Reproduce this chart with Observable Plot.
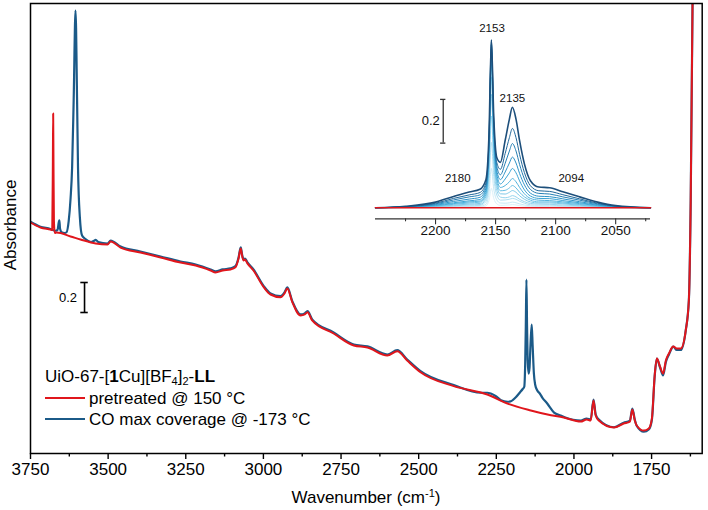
<!DOCTYPE html>
<html><head><meta charset="utf-8">
<script src="https://cdn.jsdelivr.net/npm/d3@7"></script>
<script src="https://cdn.jsdelivr.net/npm/@observablehq/plot@0.6"></script>
<style>
body{margin:0;background:#fff;}
#wrap{position:relative;width:708px;height:510px;overflow:hidden;font-family:"Liberation Sans",Arial,sans-serif;color:#000;background:#fff;}
.abs{position:absolute;white-space:nowrap;line-height:1;}
</style></head><body><div id="wrap"></div>
<script>
// ---- main spectra: [wavenumber (cm-1), absorbance] ----
const pretreated = [[3750,1.540],[3718,1.507],[3686,1.493],[3680,1.49],[3678,1.95],[3677,2.267],[3676,1.95],[3674.5,1.55],[3672,1.47],[3666,1.473],[3621,1.447],[3589,1.427],[3540,1.400],[3502,1.393],[3492,1.413],[3460,1.373],[3396,1.340],[3331,1.307],[3267,1.273],[3218,1.253],[3170,1.220],[3154,1.207],[3131,1.220],[3106,1.227],[3090,1.242],[3080,1.30],[3073,1.367],[3068,1.313],[3064,1.287],[3059,1.293],[3052,1.269],[3032,1.220],[2999,1.109],[2977,1.060],[2945,1.042],[2932,1.067],[2923,1.100],[2907,1.009],[2880,0.920],[2867,0.927],[2858,0.942],[2843,0.887],[2774,0.800],[2709,0.720],[2665,0.707],[2601,0.653],[2569,0.682],[2537,0.620],[2494,0.542],[2387,0.449],[2279,0.393],[2214,0.333],[2139,0.287],[2085,0.260],[2033,0.240],[1978,0.213],[1959,0.227],[1946,0.22],[1937,0.353],[1930,0.253],[1920,0.22],[1871,0.173],[1840,0.20],[1820,0.213],[1812,0.293],[1804,0.22],[1798,0.187],[1775,0.153],[1759,0.167],[1749,0.233],[1740,0.52],[1733,0.633],[1723,0.58],[1713,0.533],[1704,0.62],[1694,0.667],[1680,0.713],[1669,0.70],[1656,0.70],[1640,0.82],[1630,1.02],[1624,1.687],[1618,3.02],[1612,3.5]];
const coMax = [[3750,1.545],[3718,1.512],[3686,1.497],[3670,1.485],[3663,1.49],[3659,1.54],[3657,1.555],[3655,1.50],[3650,1.475],[3640,1.47],[3634,1.475],[3627,1.55],[3621,1.70],[3616,1.907],[3611,2.353],[3605,2.953],[3600,2.353],[3597,1.907],[3591,1.573],[3584,1.453],[3573,1.43],[3555,1.41],[3545,1.418],[3540,1.425],[3532,1.41],[3502,1.40],[3492,1.42],[3460,1.38],[3396,1.347],[3331,1.313],[3267,1.28],[3218,1.26],[3170,1.227],[3154,1.214],[3131,1.227],[3106,1.234],[3090,1.249],[3080,1.307],[3073,1.374],[3068,1.32],[3064,1.294],[3059,1.30],[3052,1.276],[3032,1.227],[2999,1.116],[2977,1.067],[2945,1.049],[2932,1.074],[2923,1.107],[2907,1.016],[2880,0.927],[2867,0.934],[2858,0.949],[2843,0.894],[2774,0.807],[2709,0.727],[2665,0.714],[2601,0.66],[2569,0.689],[2537,0.627],[2494,0.549],[2387,0.456],[2300,0.405],[2279,0.405],[2268,0.40],[2250,0.38],[2235,0.355],[2214,0.345],[2204,0.347],[2188,0.373],[2174,0.407],[2165,0.43],[2160,0.445],[2157,0.60],[2155,0.85],[2153,1.16],[2151,0.85],[2149,0.62],[2146,0.533],[2143,0.573],[2140,0.72],[2136,0.86],[2133,0.72],[2129,0.533],[2125,0.46],[2118,0.42],[2110,0.40],[2102,0.373],[2086,0.333],[2064,0.273],[2043,0.253],[2030,0.242],[1978,0.22],[1959,0.233],[1946,0.227],[1937,0.36],[1930,0.26],[1920,0.227],[1871,0.175],[1840,0.205],[1820,0.218],[1812,0.30],[1804,0.225],[1798,0.185],[1775,0.145],[1759,0.16],[1749,0.225],[1740,0.515],[1733,0.633],[1723,0.575],[1713,0.52],[1704,0.61],[1694,0.66],[1680,0.713],[1669,0.69],[1656,0.69],[1640,0.82],[1630,1.02],[1624,1.687],[1618,3.02],[1612,3.5]];

const mainMajorTicks = [3750, 3500, 3250, 3000, 2750, 2500, 2250, 2000, 1750];
const mainMinorTicks = [3625, 3375, 3125, 2875, 2625, 2375, 2125, 1875, 1625];
const mainDomainX = [3750, 1587];
const mainDomainY = [0, 3];
const mainBar = {wn: 3576, lo: 0.94, hi: 1.14, cap: 12, labelWn: 3600, label: "0.2"};

// ---- inset: CO coverage series (darkest = max coverage first) ----
const insetWn = [2250, 2225, 2200, 2185, 2172, 2163, 2158, 2155.5, 2153.5, 2151.5, 2149, 2146, 2142, 2138.5, 2136, 2133, 2130, 2126, 2121, 2114, 2105, 2094, 2080, 2065, 2050, 2021];
const insetSeries = [
 [0,.007,.026,.052,.072,.085,.130,.335,.769,.414,.230,.208,.309,.406,.460,.406,.307,.201,.124,.095,.092,.073,.050,.026,.010,0],
 [0,.006,.021,.043,.059,.070,.114,.319,.761,.397,.207,.176,.249,.321,.363,.321,.244,.161,.101,.078,.075,.060,.041,.021,.008,0],
 [0,.005,.018,.036,.050,.059,.102,.306,.747,.382,.190,.151,.204,.260,.294,.260,.198,.132,.084,.066,.063,.050,.035,.018,.007,0],
 [0,.004,.015,.029,.040,.048,.090,.291,.728,.365,.171,.129,.164,.205,.232,.205,.157,.105,.067,.053,.051,.041,.028,.015,.006,0],
 [0,.003,.012,.023,.032,.038,.080,.273,.698,.343,.155,.109,.132,.160,.180,.160,.123,.082,.054,.043,.042,.033,.023,.012,.005,0],
 [0,.003,.010,.019,.027,.031,.070,.254,.659,.320,.138,.093,.102,.119,.134,.119,.093,.064,.043,.035,.033,.027,.019,.010,.004,0],
 [0,.002,.008,.016,.022,.026,.061,.229,.599,.288,.121,.078,.080,.091,.102,.091,.071,.050,.035,.027,.027,.022,.015,.008,.003,0],
 [0,.002,.006,.012,.017,.020,.052,.197,.519,.249,.103,.064,.063,.071,.079,.071,.055,.039,.027,.022,.022,.018,.012,.006,.002,0],
 [0,.001,.005,.009,.013,.015,.040,.158,.420,.199,.081,.049,.046,.050,.056,.050,.039,.028,.020,.017,.016,.013,.009,.005,.002,0],
 [0,.001,.003,.007,.009,.011,.029,.113,.299,.143,.058,.035,.036,.039,.043,.039,.030,.021,.014,.012,.012,.009,.007,.003,.001,0],
 [0,.001,.002,.004,.006,.007,.017,.068,.180,.086,.036,.022,.021,.023,.026,.023,.018,.013,.009,.007,.007,.006,.004,.002,.001,0],
 [0,0,.001,.002,.003,.003,.009,.034,.089,.043,.018,.011,.012,.013,.015,.013,.010,.007,.005,.004,.004,.003,.002,.001,0,0]
];
const insetColors = ["#1d4f7b","#1f679a","#257fb4","#2e93c7","#3ca4d4","#50b2dd","#67bfe4","#7fcae9","#97d5ee","#afdff2","#c6e9f6","#dbf1f9"];
const insetBaseline = [[2250, 0], [2021, 0]];
const insetMajorTicks = [2200, 2150, 2100, 2050];
const insetMinorTicks = [2225, 2175, 2125, 2075, 2025];
const insetDomainX = [2250, 2021];
const insetDomainY = [-0.0503, 0.857];
const insetLabels = [{wn: 2153, a: 0.819, t: "2153"}, {wn: 2136, a: 0.503, t: "2135"}, {wn: 2181.5, a: 0.133, t: "2180"}, {wn: 2087, a: 0.133, t: "2094"}];
const insetBar = {wn: 2193.6, lo: 0.296, hi: 0.496, cap: 2.2, labelWn: 2196.5, label: "0.2"};

const RED = "#e0161c", BLUE = "#1b5a88";
const FONT = "'Liberation Sans', Arial, sans-serif";
const toObj = arr => arr.map(([wn, a]) => ({wn, a}));

const wrap = document.getElementById("wrap");

const main = Plot.plot({
  width: 708, height: 510,
  marginLeft: 30, marginRight: 6.3, marginTop: 3, marginBottom: 57,
  style: {fontFamily: FONT, fontSize: "17px", color: "black", background: "white", overflow: "visible"},
  x: {domain: mainDomainX, axis: null},
  y: {domain: mainDomainY, axis: null},
  marks: [
    Plot.line(toObj(coMax), {x: "wn", y: "a", stroke: BLUE, strokeWidth: 2.2, curve: "monotone-x", clip: true}),
    Plot.line(toObj(pretreated), {x: "wn", y: "a", stroke: RED, strokeWidth: 2, curve: "monotone-x", clip: true}),
    Plot.frame({stroke: "black", strokeWidth: 1.5}),
    Plot.axisX({ticks: mainMajorTicks, tickSize: 6, tickPadding: 3, fontSize: 17, label: null, tickFormat: d => String(d), stroke: "black", strokeWidth: 1.4}),
    Plot.axisX({ticks: mainMinorTicks, tickSize: 3.5, tickFormat: () => "", label: null, stroke: "black", strokeWidth: 1.4}),
    Plot.ruleX([mainBar], {x: "wn", y1: "lo", y2: "hi", stroke: "black", strokeWidth: 1.6}),
    Plot.ruleY([mainBar], {y: "lo", x1: d => d.wn + d.cap, x2: d => d.wn - d.cap, stroke: "black", strokeWidth: 1.6}),
    Plot.ruleY([mainBar], {y: "hi", x1: d => d.wn + d.cap, x2: d => d.wn - d.cap, stroke: "black", strokeWidth: 1.6}),
    Plot.text([mainBar], {x: "labelWn", y: d => (d.lo + d.hi) / 2, text: "label", textAnchor: "end", fontSize: 13, fill: "black"})
  ]
});
main.style.position = "absolute"; main.style.left = "0px"; main.style.top = "0px";
wrap.appendChild(main);

const insetMarks = [];
for (let i = insetSeries.length - 1; i >= 0; i--) {
  const rows = insetWn.map((wn, j) => ({wn, a: insetSeries[i][j]}));
  insetMarks.push(Plot.line(rows, {x: "wn", y: "a", stroke: insetColors[i], strokeWidth: i === 0 ? 1.6 : 1, curve: "monotone-x"}));
}
insetMarks.push(Plot.line(toObj(insetBaseline), {x: "wn", y: "a", stroke: RED, strokeWidth: 1.6}));
insetMarks.push(Plot.ruleY([insetDomainY[0]], {stroke: "#333", strokeWidth: 1.2}));
insetMarks.push(Plot.axisX({ticks: insetMajorTicks, tickSize: 6, tickPadding: 1, fontSize: 13.5, label: null, tickFormat: d => String(d), stroke: "#333", strokeWidth: 1.1}));
insetMarks.push(Plot.axisX({ticks: insetMinorTicks, tickSize: 3, tickFormat: () => "", label: null, stroke: "#333", strokeWidth: 1.1}));
insetMarks.push(Plot.text(insetLabels, {x: "wn", y: "a", text: "t", fontSize: 11.5, fill: "#111"}));
insetMarks.push(Plot.ruleX([insetBar], {x: "wn", y1: "lo", y2: "hi", stroke: "#333", strokeWidth: 1.3}));
insetMarks.push(Plot.ruleY([insetBar], {y: "lo", x1: d => d.wn + d.cap, x2: d => d.wn - d.cap, stroke: "#333", strokeWidth: 1.3}));
insetMarks.push(Plot.ruleY([insetBar], {y: "hi", x1: d => d.wn + d.cap, x2: d => d.wn - d.cap, stroke: "#333", strokeWidth: 1.3}));
insetMarks.push(Plot.text([insetBar], {x: "labelWn", y: d => (d.lo + d.hi) / 2, text: "label", textAnchor: "end", fontSize: 13, fill: "#111"}));

const inset = Plot.plot({
  width: 300, height: 240,
  marginLeft: 15, marginRight: 10, marginTop: 20, marginBottom: 21.7,
  style: {fontFamily: FONT, fontSize: "13.5px", color: "#111", background: "transparent", overflow: "visible"},
  x: {domain: insetDomainX, axis: null},
  y: {domain: insetDomainY, axis: null},
  marks: insetMarks
});
inset.style.position = "absolute"; inset.style.left = "360px"; inset.style.top = "0px";
wrap.appendChild(inset);

function addDiv(html, css) {
  const d = document.createElement("div");
  d.className = "abs";
  d.innerHTML = html;
  Object.assign(d.style, css);
  wrap.appendChild(d);
  return d;
}
addDiv("Absorbance", {left: "10px", top: "225px", fontSize: "17px", transform: "translate(-50%,-50%) rotate(-90deg)"});
addDiv("Wavenumber (cm<sup style='font-size:11px;vertical-align:6px'>-1</sup>)", {left: "366px", top: "497px", fontSize: "17px", transform: "translate(-50%,-50%)"});
addDiv("UiO-67-[<b>1</b>Cu][BF<sub style='font-size:11px;vertical-align:-3px'>4</sub>]<sub style='font-size:11px;vertical-align:-3px'>2</sub>-<b>LL</b>", {left: "45px", top: "377px", fontSize: "17px", transform: "translate(0,-50%)"});
addDiv("", {left: "45px", top: "396.5px", width: "40px", height: "0px", borderTop: "2px solid " + RED});
addDiv("pretreated @ 150 °C", {left: "89px", top: "397.5px", fontSize: "17px", transform: "translate(0,-50%)"});
addDiv("", {left: "45px", top: "417.5px", width: "40px", height: "0px", borderTop: "2px solid " + BLUE});
addDiv("CO max coverage @ -173 °C", {left: "89px", top: "418.5px", fontSize: "17px", transform: "translate(0,-50%)"});
</script></body></html>
